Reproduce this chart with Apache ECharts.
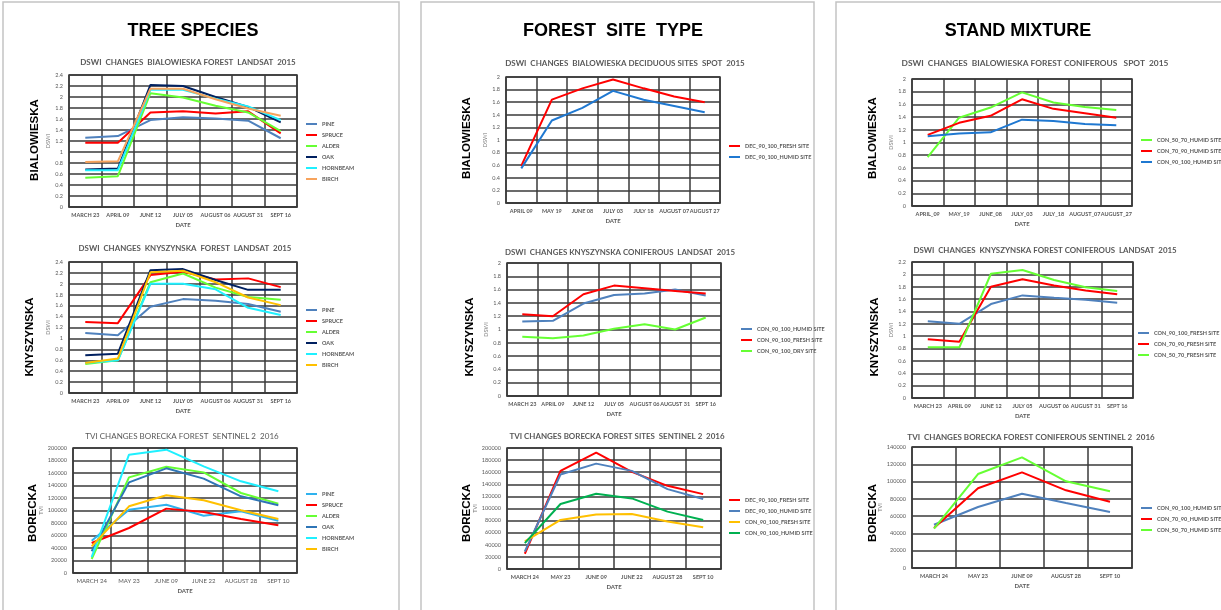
<!DOCTYPE html>
<html>
<head>
<meta charset="utf-8">
<script src="https://cdn.jsdelivr.net/npm/echarts@6/dist/echarts.min.js"></script>
<style>
  html, body { margin: 0; padding: 0; background: #fff; }
  #chart { width: 1221px; height: 610px; }
</style>
</head>
<body>
<div id="chart"></div>
<script>
// ---- categories (acquisition dates) ----
const datesLandsat = ['MARCH 23', 'APRIL 09', 'JUNE 12', 'JULY 05', 'AUGUST 06', 'AUGUST 31', 'SEPT 16'];
const datesSentinel6 = ['MARCH 24', 'MAY 23', 'JUNE 09', 'JUNE 22', 'AUGUST 28', 'SEPT 10'];
const datesSentinel5 = ['MARCH 24', 'MAY 23', 'JUNE 09', 'AUGUST 28', 'SEPT 10'];
const datesSpotDec = ['APRIL 09', 'MAY 19', 'JUNE 08', 'JULY 03', 'JULY 18', 'AUGUST 07', 'AUGUST 27'];
const datesSpotCon = ['APRIL_09', 'MAY_19', 'JUNE_08', 'JULY_03', 'JULY_18', 'AUGUST_07', 'AUGUST_27'];

// ---- tree species: Bialowieska, DSWI (Landsat 2015) ----
const bialPine     = [1.26, 1.29, 1.58, 1.63, 1.61, 1.57, 1.25];
const bialSpruce   = [1.17, 1.17, 1.72, 1.74, 1.70, 1.74, 1.34];
const bialAlder    = [0.53, 0.56, 2.07, 1.99, 1.84, 1.72, 1.38];
const bialOak      = [0.68, 0.70, 2.22, 2.20, 2.00, 1.82, 1.54];
const bialHornbeam = [0.67, 0.67, 2.13, 2.13, 1.97, 1.83, 1.58];
const bialBirch    = [0.82, 0.83, 2.15, 2.15, 1.96, 1.79, 1.66];

// ---- tree species: Knyszynska, DSWI (Landsat 2015) ----
const knysPine     = [1.10, 1.06, 1.58, 1.72, 1.69, 1.63, 1.49];
const knysSpruce   = [1.30, 1.28, 2.16, 2.22, 2.08, 2.10, 1.94];
const knysAlder    = [0.53, 0.60, 2.03, 2.19, 1.93, 1.76, 1.71];
const knysOak      = [0.69, 0.72, 2.25, 2.27, 2.07, 1.89, 1.89];
const knysHornbeam = [0.55, 0.60, 2.00, 2.00, 1.90, 1.56, 1.43];
const knysBirch    = [0.55, 0.63, 2.21, 2.24, 2.03, 1.75, 1.61];

// ---- tree species: Borecka, TVI (Sentinel 2 2016) ----
const borPine     = [51700, 101300, 109300, 91700, 98700, 83700];
const borSpruce   = [48000, 72000, 103000, 97600, 86400, 76300];
const borAlder    = [22400, 153000, 170000, 161000, 128000, 111000];
const borOak      = [34700, 145000, 167500, 151000, 122700, 108300];
const borHornbeam = [25600, 189300, 197300, 170700, 146700, 130700];
const borBirch    = [42700, 106700, 124300, 116300, 100300, 86400];

// ---- forest site type ----
const bialDecFresh = [0.59, 1.64, 1.82, 1.96, 1.82, 1.69, 1.60];
const bialDecHumid = [0.55, 1.31, 1.51, 1.78, 1.64, 1.54, 1.44];

const knysConHumid = [1.12, 1.13, 1.39, 1.52, 1.54, 1.60, 1.51];
const knysConFresh = [1.23, 1.20, 1.53, 1.66, 1.62, 1.58, 1.54];
const knysConDry   = [0.89, 0.87, 0.91, 1.01, 1.08, 1.00, 1.18];

const borDecFresh = [25200, 162200, 192300, 160500, 137500, 123800];
const borDecHumid = [29000, 156200, 174200, 162200, 132000, 115600];
const borConFresh = [45500, 81100, 89900, 91000, 78400, 69000];
const borConHumid = [42700, 107400, 124400, 116700, 94800, 81100];

// ---- stand mixture ----
const bialCon5070  = [0.77, 1.39, 1.55, 1.79, 1.63, 1.56, 1.51];
const bialCon7090  = [1.12, 1.31, 1.42, 1.68, 1.53, 1.46, 1.39];
const bialCon90100 = [1.10, 1.14, 1.16, 1.36, 1.34, 1.29, 1.27];

const knysCon90100 = [1.24, 1.20, 1.52, 1.66, 1.62, 1.59, 1.54];
const knysCon7090  = [0.95, 0.91, 1.80, 1.92, 1.82, 1.74, 1.68];
const knysCon5070  = [0.82, 0.82, 2.01, 2.07, 1.91, 1.79, 1.73];

const borCon90100 = [50100, 70600, 86000, 75200, 64800];
const borCon7090  = [46300, 92200, 110700, 89900, 76700];
const borCon5070  = [45500, 108700, 128000, 100300, 88700];

// ---- colours ----
const C = {
  steel: '#4f81bd', red: '#ff0000', lime: '#66ff33', navy: '#002060',
  cyan: '#1ff0ff', tan: '#f7a35c', gold: '#ffc000', sky: '#2fb2ee',
  blue: '#2e75b6', vivid: '#1f78d1', green: '#00b050'
};

const FONT = 'Lato, "Liberation Sans", sans-serif';
const HEAD = '"Liberation Sans", Arial, sans-serif';
const GRIDC = '#3a3a3a';
const TEXTC = '#595959';

// one entry per small chart
const charts = [
  { grid: [69, 75, 228, 132], cats: datesLandsat, max: 2.4, step: 0.2, yName: 'DSWI', yGap: 17,
    title: 'DSWI  CHANGES  BIALOWIESKA FOREST  LANDSAT  2015', tx: 188, ty: 62, ts: 8,
    row: 'BIALOWIESKA', rx: 35, ry: 140, leg: [306, 121],
    series: [['PINE', bialPine, C.steel], ['SPRUCE', bialSpruce, C.red], ['ALDER', bialAlder, C.lime],
             ['OAK', bialOak, C.navy], ['HORNBEAM', bialHornbeam, C.cyan], ['BIRCH', bialBirch, C.tan]] },
  { grid: [69, 262, 228, 131], cats: datesLandsat, max: 2.4, step: 0.2, yName: 'DSWI', yGap: 17,
    title: 'DSWI  CHANGES  KNYSZYNSKA  FOREST  LANDSAT  2015', tx: 185, ty: 248, ts: 7.9,
    row: 'KNYSZYNSKA', rx: 30, ry: 337, leg: [306, 307],
    series: [['PINE', knysPine, C.steel], ['SPRUCE', knysSpruce, C.red], ['ALDER', knysAlder, C.lime],
             ['OAK', knysOak, C.navy], ['HORNBEAM', knysHornbeam, C.cyan], ['BIRCH', knysBirch, C.gold]] },
  { grid: [73, 448, 224, 125], cats: datesSentinel6, max: 200000, step: 20000, yName: 'TVI', yGap: 28,
    title: 'TVI CHANGES BORECKA FOREST  SENTINEL 2  2016', tx: 182, ty: 436, ts: 8, light: true,
    row: 'BORECKA', rx: 33, ry: 513, leg: [306, 491],
    series: [['PINE', borPine, C.sky], ['SPRUCE', borSpruce, C.red], ['ALDER', borAlder, C.lime],
             ['OAK', borOak, C.blue], ['HORNBEAM', borHornbeam, C.cyan], ['BIRCH', borBirch, C.gold]] },
  { grid: [506, 77, 214, 126], cats: datesSpotDec, max: 2, step: 0.2, yName: 'DSWI', yGap: 17,
    title: 'DSWI  CHANGES  BIALOWIESKA DECIDUOUS SITES  SPOT  2015', tx: 625, ty: 63, ts: 8,
    row: 'BIALOWIESKA', rx: 467, ry: 138, leg: [729, 143],
    series: [['DEC_90_100_FRESH SITE', bialDecFresh, C.red], ['DEC_90_100_HUMID SITE', bialDecHumid, C.vivid]] },
  { grid: [507, 263, 214, 133], cats: datesLandsat, max: 2, step: 0.2, yName: 'DSWI', yGap: 18,
    title: 'DSWI  CHANGES KNYSZYNSKA CONIFEROUS  LANDSAT  2015', tx: 620, ty: 252, ts: 7.9,
    row: 'KNYSZYNSKA', rx: 470, ry: 337, leg: [741, 326],
    series: [['CON_90_100_HUMID SITE', knysConHumid, C.steel], ['CON_90_100_FRESH SITE', knysConFresh, C.red],
             ['CON_90_100_DRY SITE', knysConDry, C.lime]] },
  { grid: [507, 448, 214, 121], cats: datesSentinel6, max: 200000, step: 20000, yName: 'TVI', yGap: 27,
    title: 'TVI CHANGES BORECKA FOREST SITES  SENTINEL 2  2016', tx: 617, ty: 436, ts: 7.95,
    row: 'BORECKA', rx: 467, ry: 513, leg: [729, 497],
    series: [['DEC_90_100_FRESH SITE', borDecFresh, C.red], ['DEC_90_100_HUMID SITE', borDecHumid, C.steel],
             ['CON_90_100_FRESH SITE', borConFresh, C.gold], ['CON_90_100_HUMID SITE', borConHumid, C.green]] },
  { grid: [912, 79, 220, 127], cats: datesSpotCon, max: 2, step: 0.2, yName: 'DSWI', yGap: 17,
    title: 'DSWI  CHANGES  BIALOWIESKA FOREST CONIFEROUS   SPOT  2015', tx: 1035, ty: 63, ts: 8.4,
    row: 'BIALOWIESKA', rx: 873, ry: 138, leg: [1141, 137],
    series: [['CON_50_70_HUMID SITE', bialCon5070, C.lime], ['CON_70_90_HUMID SITE', bialCon7090, C.red],
             ['CON_90_100_HUMID SITE', bialCon90100, C.vivid]] },
  { grid: [912, 262, 221, 136], cats: datesLandsat, max: 2.2, step: 0.2, yName: 'DSWI', yGap: 17,
    title: 'DSWI  CHANGES  KNYSZYNSKA FOREST CONIFEROUS  LANDSAT  2015', tx: 1045, ty: 250, ts: 7.9,
    row: 'KNYSZYNSKA', rx: 875, ry: 337, leg: [1138, 330],
    series: [['CON_90_100_FRESH SITE', knysCon90100, C.steel], ['CON_70_90_FRESH SITE', knysCon7090, C.red],
             ['CON_50_70_FRESH SITE', knysCon5070, C.lime]] },
  { grid: [912, 447, 220, 121], cats: datesSentinel5, max: 140000, step: 20000, yName: 'TVI', yGap: 27,
    title: 'TVI  CHANGES BORECKA FOREST CONIFEROUS SENTINEL 2  2016', tx: 1031, ty: 437, ts: 8,
    row: 'BORECKA', rx: 873, ry: 513, leg: [1141, 505],
    series: [['CON_90_100_HUMID SITE', borCon90100, C.steel], ['CON_70_90_HUMID SITE', borCon7090, C.red],
             ['CON_50_70_HUMID SITE', borCon5070, C.lime]] }
];

const option = {
  backgroundColor: '#ffffff',
  animation: false,
  grid: [], xAxis: [], yAxis: [], series: [], legend: [],
  graphic: []
};

// panel frames and headings
[[3, 'TREE SPECIES', 193], [421, 'FOREST  SITE  TYPE', 613], [836, 'STAND MIXTURE', 1018]].forEach(([x, text, cx], i) => {
  const w = i === 2 ? 400 : (i === 0 ? 396 : 393);
  option.graphic.push({ type: 'rect', silent: true, shape: { x: x, y: 2, width: w, height: 640 },
    style: { fill: 'none', stroke: '#c3c3c3', lineWidth: 1.5 } });
  option.graphic.push({ type: 'text', silent: true, x: cx, y: 31,
    style: { text: text, font: 'bold 18px ' + HEAD, fill: '#000', align: 'center', verticalAlign: 'middle' } });
});

charts.forEach((c, i) => {
  const [left, top, width, height] = c.grid;
  option.grid.push({ left, top, width, height, show: true, borderColor: GRIDC, borderWidth: 1.5 });
  option.xAxis.push({
    type: 'category', gridIndex: i, data: c.cats, boundaryGap: true,
    axisLine: { show: true, lineStyle: { color: GRIDC, width: 1.5 } },
    axisTick: { show: false },
    axisLabel: { interval: 0, fontSize: c.light ? 6 : 5.5, fontWeight: c.light ? 'normal' : 'bold',
                 color: TEXTC, margin: 5, fontFamily: FONT },
    splitLine: { show: true, interval: 0, lineStyle: { color: GRIDC, width: 1.5 } },
    name: 'DATE', nameLocation: 'middle', nameGap: 15,
    nameTextStyle: { fontSize: 6, fontWeight: 'bold', color: TEXTC, fontFamily: FONT }
  });
  option.yAxis.push({
    type: 'value', gridIndex: i, min: 0, max: c.max, interval: c.step,
    axisLine: { show: false }, axisTick: { show: false },
    axisLabel: { fontSize: 5.5, color: TEXTC, margin: 6, fontFamily: FONT, formatter: v => String(v) },
    splitLine: { show: true, lineStyle: { color: GRIDC, width: 1.5 } },
    name: c.yName, nameLocation: 'middle', nameRotate: 90, nameGap: c.yGap,
    nameTextStyle: { fontSize: 5.5, color: '#7f7f7f', fontFamily: FONT }
  });
  c.series.forEach(([name, data, color]) => {
    option.series.push({
      type: 'line', name, data, xAxisIndex: i, yAxisIndex: i, symbol: 'none', silent: true,
      lineStyle: { width: 2, color }, itemStyle: { color }, z: 3
    });
  });
  option.legend.push({
    orient: 'vertical', left: c.leg[0], top: c.leg[1], padding: 0, icon: 'rect', itemWidth: 11, itemHeight: 2,
    itemGap: 5, selectedMode: false,
    textStyle: { fontSize: 5.5, color: TEXTC, fontWeight: 'bold', fontFamily: FONT },
    data: c.series.map(([name, , color]) => ({ name, itemStyle: { color } }))
  });
  option.graphic.push({ type: 'text', silent: true, x: c.tx, y: c.ty,
    style: { text: c.title, font: (c.light ? '' : 'bold ') + c.ts + 'px ' + FONT, fill: TEXTC,
             align: 'center', verticalAlign: 'middle' } });
  option.graphic.push({ type: 'text', silent: true, x: c.rx, y: c.ry, rotation: Math.PI / 2,
    style: { text: c.row, font: 'bold 11.5px ' + HEAD, fill: '#000', align: 'center', verticalAlign: 'middle' } });
});

const chart = echarts.init(document.getElementById('chart'), null, { renderer: 'canvas' });
chart.setOption(option);
</script>
</body>
</html>
